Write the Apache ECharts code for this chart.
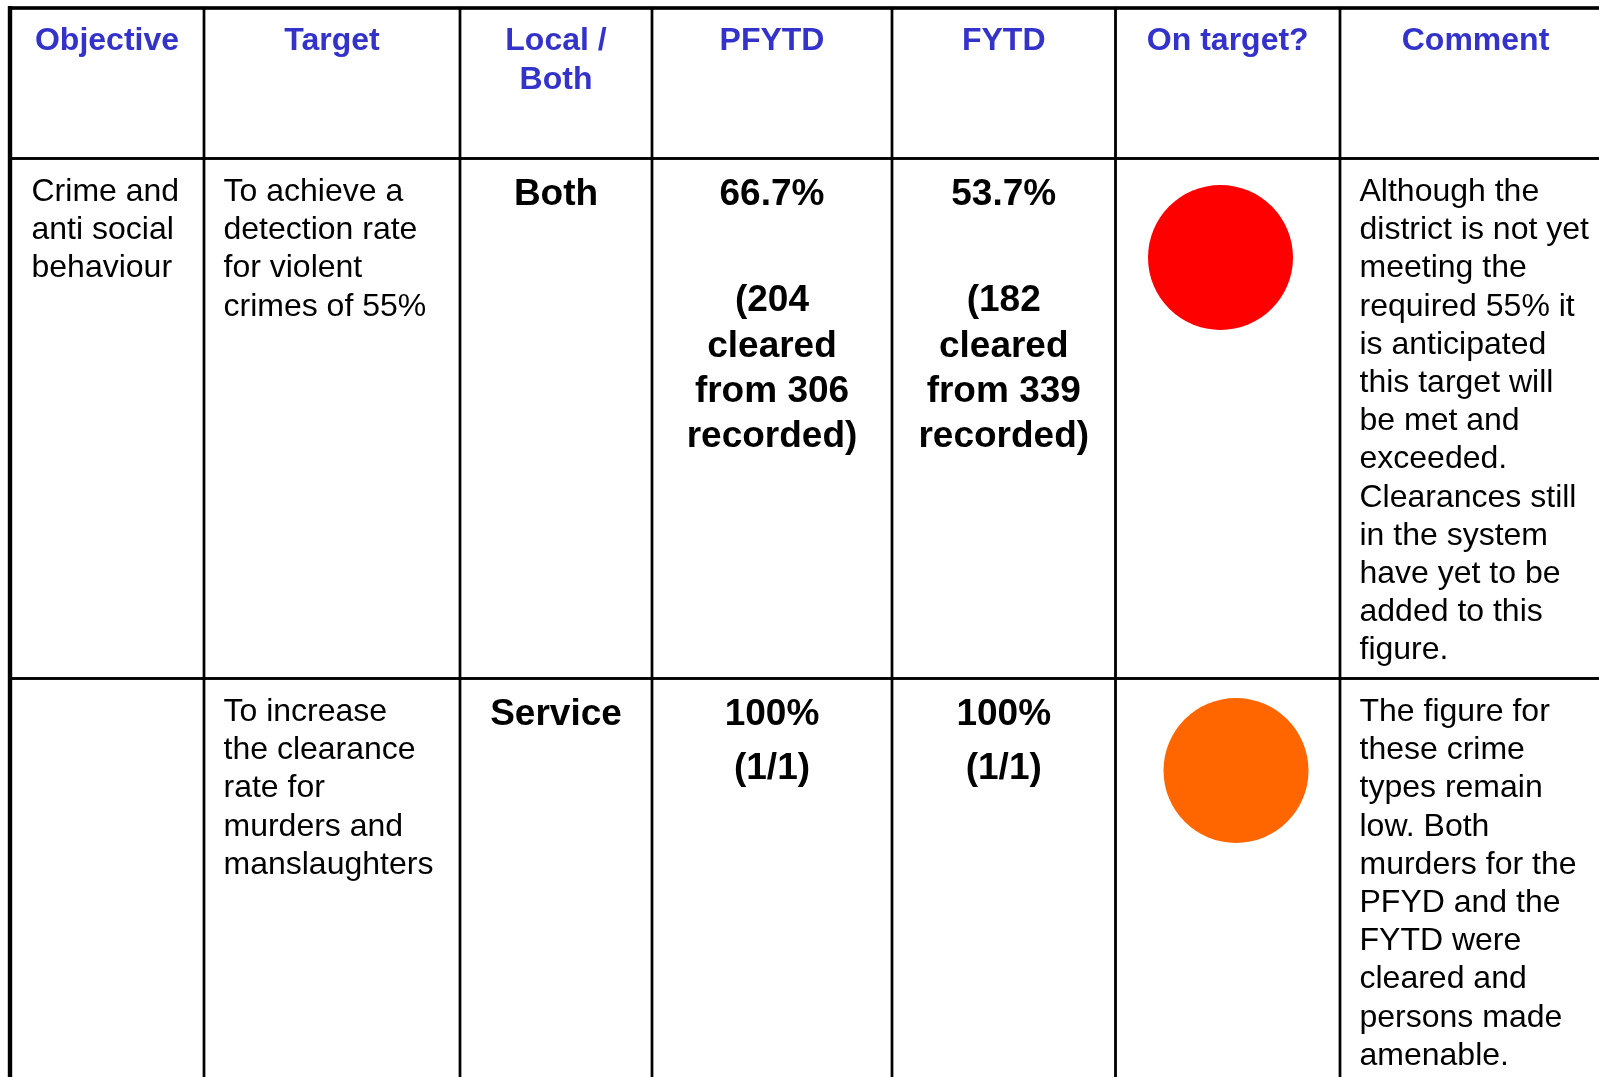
<!DOCTYPE html>
<html>
<head>
<meta charset="utf-8">
<script src="https://cdn.jsdelivr.net/npm/echarts@6/dist/echarts.min.js"></script>
<style>
html, body { margin: 0; padding: 0; background: #fff; }
#main { width: 1599px; height: 1077px; }
</style>
</head>
<body>
<div id="main"></div>
<script>
// 表头
var headers = ['Objective', 'Target', 'Local /\nBoth', 'PFYTD', 'FYTD', 'On target?', 'Comment'];
// 数据行
var objectives = ['Crime and\nanti social\nbehaviour', ''];
var targets = ['To achieve a\ndetection rate\nfor violent\ncrimes of 55%', 'To increase\nthe clearance\nrate for\nmurders and\nmanslaughters'];
var scopes = ['Both', 'Service'];
var pfytdRates = ['66.7%', '100%'];
var pfytdCounts = ['\n(204\ncleared\nfrom 306\nrecorded)', '(1/1)'];
var fytdRates = ['53.7%', '100%'];
var fytdCounts = ['\n(182\ncleared\nfrom 339\nrecorded)', '(1/1)'];
var ragStatus = ['red', 'amber'];
var comments = [
	'Although the\ndistrict is not yet\nmeeting the\nrequired 55% it\nis anticipated\nthis target will\nbe met and\nexceeded.\nClearances still\nin the system\nhave yet to be\nadded to this\nfigure.',
	'The figure for\nthese crime\ntypes remain\nlow. Both\nmurders for the\nPFYD and the\nFYTD were\ncleared and\npersons made\namenable.'
];

// 表格布局（像素，坐标轴与像素一比一）
var colEdges = [10, 204, 460, 652, 892, 1115.5, 1340, 1611];
var rowEdges = [8, 158.5, 678.5, 1200];
var ragColors = { red: '#ff0000', amber: '#ff6600' };
var dotOffsets = [[105, 99], [120.5, 92]];
var FONT = "'Liberation Sans', Arial, Helvetica, sans-serif";

// 组装单元格
var cells = [];
for (var c = 0; c < headers.length; c++) {
	cells.push({ col: c, row: 0, kind: 'header', text: headers[c] });
}
for (var r = 0; r < scopes.length; r++) {
	cells.push({ col: 0, row: r + 1, kind: 'left', text: objectives[r] });
	cells.push({ col: 1, row: r + 1, kind: 'left', text: targets[r] });
	cells.push({ col: 2, row: r + 1, kind: 'bold', text: scopes[r] });
	cells.push({ col: 3, row: r + 1, kind: 'rate', text: pfytdRates[r], sub: pfytdCounts[r] });
	cells.push({ col: 4, row: r + 1, kind: 'rate', text: fytdRates[r], sub: fytdCounts[r] });
	cells.push({ col: 5, row: r + 1, kind: 'dot', status: ragStatus[r], idx: r });
	cells.push({ col: 6, row: r + 1, kind: 'left', text: comments[r] });
}
cells.push({ col: 0, row: 0, kind: 'frame' });

function txt(x, y, text, size, weight, color, align, lh) {
	return {
		type: 'text',
		x: x,
		y: y,
		style: {
			text: text,
			fill: color,
			fontSize: size,
			fontWeight: weight,
			fontFamily: FONT,
			align: align,
			verticalAlign: 'top',
			lineHeight: lh
		}
	};
}

function renderCell(params, api) {
	var cell = cells[api.value(2)];
	var col = cell.col, row = cell.row;
	var p0 = api.coord([colEdges[col], rowEdges[row]]);
	var p1 = api.coord([colEdges[col + 1], rowEdges[row + 1]]);
	var children = [];

	if (cell.kind == 'frame') {
		var a = api.coord([colEdges[0], rowEdges[0]]);
		var b = api.coord([colEdges[colEdges.length - 1], rowEdges[rowEdges.length - 1]]);
		children.push({ type: 'line', shape: { x1: a[0] - 2, y1: a[1], x2: b[0], y2: a[1] }, style: { stroke: '#000', lineWidth: 3.6 } });
		children.push({ type: 'line', shape: { x1: a[0], y1: a[1] - 2, x2: a[0], y2: b[1] }, style: { stroke: '#000', lineWidth: 4.4 } });
		return { type: 'group', children: children };
	}

	children.push({
		type: 'rect',
		shape: { x: p0[0], y: p0[1], width: p1[0] - p0[0], height: p1[1] - p0[1] },
		style: { fill: 'none', stroke: '#000', lineWidth: 2.4 }
	});
	var cx = (p0[0] + p1[0]) / 2;

	if (cell.kind == 'header') {
		children.push(txt(cx, p0[1] + 14, cell.text, 32, 'bold', '#3333cc', 'center', 38.5));
	} else if (cell.kind == 'left') {
		var pad = col == 0 ? 21.5 : 19.5;
		children.push(txt(p0[0] + pad, p0[1] + 14.5, cell.text, 32, 'normal', '#000', 'left', 38.2));
	} else if (cell.kind == 'bold') {
		children.push(txt(cx, p0[1] + 14, cell.text, 37, 'bold', '#000', 'center', 45));
	} else if (cell.kind == 'rate') {
		children.push(txt(cx, p0[1] + 14, cell.text, 37, 'bold', '#000', 'center', 45));
		var sub = cell.sub;
		var blank = 0;
		while (sub.charAt(0) == '\n') {
			sub = sub.substring(1);
			blank++;
		}
		children.push(txt(cx, p0[1] + 14 + 54 + blank * 52, sub, 37, 'bold', '#000', 'center', 45.3));
	} else if (cell.kind == 'dot') {
		var off = dotOffsets[cell.idx];
		children.push({
			type: 'circle',
			shape: { cx: p0[0] + off[0], cy: p0[1] + off[1], r: 72.5 },
			style: { fill: ragColors[cell.status], stroke: null }
		});
	}
	return { type: 'group', children: children };
}

var tableChart = echarts.init(document.getElementById('main'));
var option = {
	animation: false,
	backgroundColor: '#fff',
	grid: { left: 0, right: 0, top: 0, bottom: 0 },
	xAxis: { type: 'value', min: 0, max: 1599, show: false },
	yAxis: { type: 'value', min: 0, max: 1077, inverse: true, show: false },
	series: [{
		type: 'custom',
		clip: false,
		renderItem: renderCell,
		encode: { x: 0, y: 1 },
		data: cells.map(function (cell, i) { return [colEdges[cell.col], rowEdges[cell.row], i]; })
	}]
};
tableChart.setOption(option);
</script>
</body>
</html>
